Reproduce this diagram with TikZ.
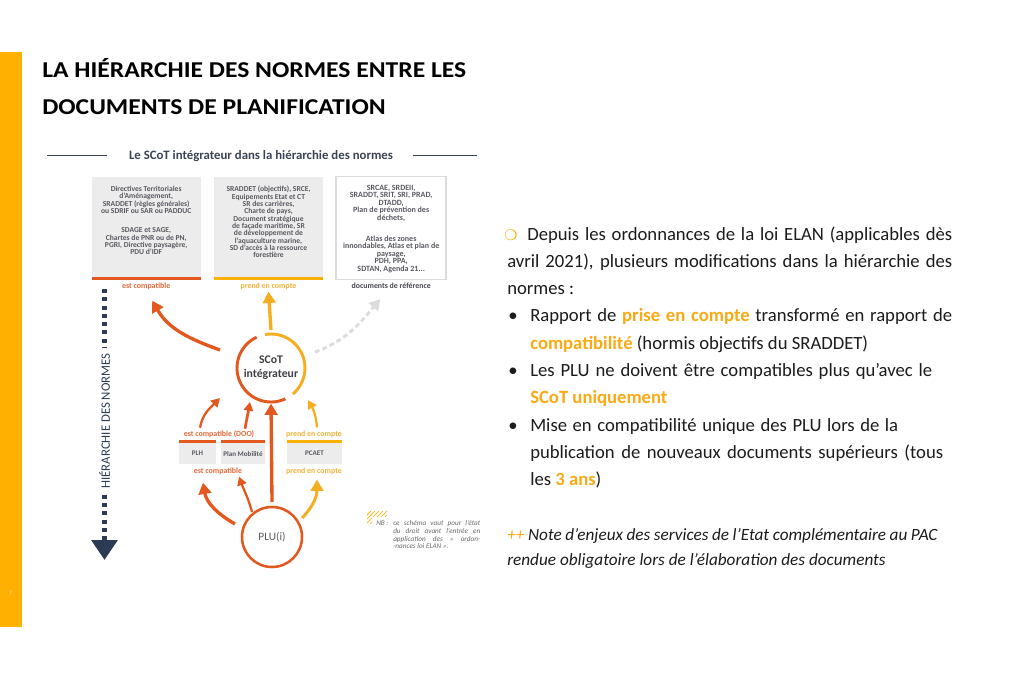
\documentclass[tikz,border=0pt]{standalone}
\usepackage{fontspec}
\setmainfont{Carlito}
\newfontfamily\symfont{DejaVu Sans}
\newfontfamily\titlefont{Carlito}[FakeStretch=1.13]
\usetikzlibrary{arrows.meta,calc,patterns}
\definecolor{ambar}{RGB}{255,176,0}
\definecolor{hl}{RGB}{250,170,20}
\definecolor{dorange}{RGB}{226,88,30}
\definecolor{lorange}{RGB}{226,105,55}
\definecolor{yarrow}{RGB}{246,174,32}
\definecolor{ylabel}{RGB}{242,178,55}
\definecolor{navy}{RGB}{45,58,84}
\definecolor{boxgray}{RGB}{236,236,236}
\definecolor{boxtext}{RGB}{88,90,96}
\definecolor{lgray}{RGB}{220,220,220}
\definecolor{txt}{RGB}{28,28,28}
\definecolor{subt}{RGB}{58,68,84}
\definecolor{nbgray}{RGB}{105,105,110}
\definecolor{pagen}{RGB}{255,222,150}
\begin{document}
\begin{tikzpicture}[x=0.75pt,y=0.75pt,
  lab/.style={font=\bfseries\fontsize{5.9}{7}\selectfont, inner sep=0},
  btext/.style={font=\bfseries\fontsize{5.7}{5.5}\selectfont, text=boxtext, align=center, inner sep=0},
  gbox/.style={rectangle, fill=boxgray, inner sep=0, outer sep=0, minimum width=81.75pt, minimum height=75.2pt},
  sbox/.style={rectangle, fill=boxgray, inner sep=0, outer sep=0, minimum height=16.1pt, font=\bfseries\fontsize{5.3}{6}\selectfont, text=boxtext},
  thickarr/.style={line width=2.5pt, -{Triangle[width=9.5pt,length=8.5pt]}},
  thinarr/.style={line width=1.7pt, -{Triangle[width=7pt,length=6.5pt]}},
  rline/.style={anchor=base west, inner sep=0, font=\fontsize{14}{16}\selectfont, text=txt},
  nline/.style={anchor=base west, inner sep=0, font=\itshape\fontsize{12.9}{16}\selectfont, text=txt},
  nbline/.style={anchor=base west, inner sep=0, font=\itshape\fontsize{5.4}{6.5}\selectfont, text=nbgray},
  titleline/.style={anchor=base west, inner sep=0, font=\titlefont\bfseries\fontsize{17}{20}\selectfont, text=black},
]
\useasboundingbox (0,0) rectangle (1024,-678);
\fill[white] (0,0) rectangle (1024,-678);
\fill[ambar] (0,-52) rectangle (22,-627);
\node[font=\fontsize{5}{6}\selectfont, text=pagen, inner sep=0] (pnum) at (10.5,-593) {7};

% title
\node[titleline] (title1) at (42,-77) {LA HIÉRARCHIE DES NORMES ENTRE LES};
\node[titleline] (title2) at (42,-114) {DOCUMENTS DE PLANIFICATION};

% subtitle
\node[anchor=base, inner sep=0, font=\bfseries\fontsize{9.6}{11}\selectfont, text=subt] (subtitle) at (261,-159) {Le SCoT intégrateur dans la hiérarchie des normes};
\draw[subt, line width=0.7pt] (47,-155.5) -- (107,-155.5);
\draw[subt, line width=0.7pt] (413,-155.5) -- (477,-155.5);

% top boxes
\node[gbox] (box1) at (146.2,-227) {};
\node[gbox] (box2) at (268.5,-227) {};
\node[gbox, fill=white, draw=lgray, line width=1.2pt, minimum width=82.5pt, minimum height=77pt] (box3) at (391.2,-228) {};
\draw[dorange, line width=2.3pt] ([yshift=-1.15pt]box1.south west) -- ([yshift=-1.15pt]box1.south east);
\draw[ambar, line width=2.3pt] ([yshift=-1.15pt]box2.south west) -- ([yshift=-1.15pt]box2.south east);

\node[btext, anchor=north] (box1t) at ($(box1.north)+(0,-9)$) {Directives Territoriales\\d'Aménagement,\\SRADDET (règles générales)\\ou SDRIF ou SAR ou PADDUC\\[9pt]SDAGE et SAGE,\\Chartes de PNR ou de PN,\\PGRI, Directive paysagère,\\PDU d'IDF};
\node[btext, anchor=north] (box2t) at ($(box2.north)+(0,-9)$) {SRADDET (objectifs), SRCE,\\Equipements Etat et CT\\SR des carrières,\\Charte de pays,\\Document stratégique\\de façade maritime, SR\\de développement de\\l'aquaculture marine,\\SD d'accès à la ressource\\forestière};
\node[btext, anchor=north, font=\bfseries\fontsize{6}{5.6}\selectfont] (box3t) at ($(box3.north)+(0,-8)$) {SRCAE, SRDEII,\\SRADDT, SRIT, SRI, PRAD,\\DTADD,\\Plan de prévention des\\déchets,\\[10.5pt]Atlas des zones\\innondables, Atlas et plan de\\paysage,\\PDH, PPA,\\SDTAN, Agenda 21...};

\node[lab, text=lorange] (lab1) at (146.2,-286) {est compatible};
\node[lab, text=ylabel] (lab2) at (268.5,-286) {prend en compte};
\node[lab, text=boxtext!80!black] (lab3) at (391.2,-286) {documents de référence};

% hierarchy arrow
\node[rotate=90, inner sep=0, font=\fontsize{9.6}{11}\selectfont, text=navy] (hier) at (104.5,-421) {HIÉRARCHIE DES NORMES};
\coordinate (navtop) at (104.5,-289);
\coordinate (navtip) at (104.5,-560);
\draw[navy, line width=3.8pt, dash pattern=on 3pt off 3.2pt] (navtop) -- ($(hier.east)+(0,5)$);
\draw[navy, line width=3.8pt, dash pattern=on 3pt off 3.2pt, -{Triangle[width=19pt,length=15pt]}] ($(hier.west)+(0,-6)$) -- (navtip);

% SCoT circle
\node[circle, inner sep=0, outer sep=0, minimum size=51pt, align=center, font=\bfseries\fontsize{8.8}{10.5}\selectfont, text=boxtext!70!black] (scot) at (271,-368) {SCoT\\intégrateur};
\draw[dorange, line width=2.2pt] (scot.115) arc[start angle=115, end angle=295, radius=25.5pt];
\draw[yarrow, line width=2.2pt] (scot.100) arc[start angle=100, end angle=-50, radius=25.5pt];

% PLU circle
\node[circle, draw=dorange, line width=1.9pt, inner sep=0, outer sep=0, minimum size=45pt, font=\fontsize{8.5}{10}\selectfont, text=boxtext] (plu) at (272,-537) {PLU(i)};

% small boxes
\node[sbox, minimum width=27.75pt] (plh) at (197.5,-453.7) {PLH};
\node[sbox, minimum width=33pt] (mob) at (243,-453.7) {Plan Mobilité};
\node[sbox, minimum width=41.25pt] (pcaet) at (314.5,-453.7) {PCAET};
\draw[dorange, line width=2.2pt] ([yshift=1.3pt]plh.north west) -- ([yshift=1.3pt]plh.north east);
\draw[dorange, line width=2.2pt] ([yshift=1.3pt]mob.north west) -- ([yshift=1.3pt]mob.north east);
\draw[ambar, line width=2.2pt] ([yshift=1.3pt]pcaet.north west) -- ([yshift=1.3pt]pcaet.north east);

\node[lab, text=lorange] (lab4) at (219,-434.5) {est compatible (DOO)};
\node[lab, text=lorange] (lab5) at (218,-471) {est compatible};
\node[lab, text=ylabel] (lab6) at (314,-434) {prend en compte};
\node[lab, text=ylabel] (lab7) at (314,-471) {prend en compte};

% arrows from SCoT
\draw[thickarr, dorange] ($(scot)+(-51,18)$) to[out=160, in=-60] ($(lab1.south)+(6,-11)$);
\draw[thickarr, yarrow] ($(scot.north)+(0,4)$) -- ($(lab2.south)+(0,-2)$);
\draw[line width=2.2pt, lgray, dash pattern=on 3.5pt off 2.5pt, -{Triangle[width=9pt,length=8pt]}] ($(scot)+(44,16)$) to[out=20, in=-130] ($(lab3.south)+(-11,-10)$);

% arrows from PLU
\draw[thickarr, dorange] ($(plu.north)+(0,5)$) -- ($(scot.south)+(0,-1.5)$);
\draw[thickarr, dorange] ($(plu)+(-37,13)$) to[out=150, in=-80] ($(lab5.south)+(-15,-8)$);
\draw[thinarr, dorange] ($(plu)+(-20,25)$) to[out=105, in=-70] ($(lab5.south)+(21,-2)$);
\draw[thickarr, yarrow, line width=2.2pt] ($(plu)+(30,19)$) to[out=45, in=-90] ($(lab7.south)+(3,-5)$);

% arrows from small boxes to SCoT
\draw[thinarr, dorange] ($(lab4.north)+(-19,3)$) to[out=80, in=-135] ($(scot)+(-51,-30)$);
\draw[thinarr, dorange, line width=2pt] ($(lab4.north)+(26,2)$) to[out=80, in=-100] ($(scot)+(-21,-34)$);
\draw[thinarr, yarrow] ($(lab6.north)+(3,3)$) to[out=95, in=-60] ($(scot)+(37,-32)$);

% NB
\fill[pattern=north east lines, pattern color=ambar] (367,-511.5) rectangle (387,-516.5);
\fill[pattern=north east lines, pattern color=ambar] (367,-511.5) rectangle (372,-523);
\node[nbline] (nb0) at (376,-525) {NB :};
\node[nbline] (nb1) at (393,-525) {\makebox[65.25pt][s]{ce schéma vaut pour l’état}};
\node[nbline] (nb2) at (393,-533) {\makebox[65.25pt][s]{du droit avant l’entrée en}};
\node[nbline] (nb3) at (393,-541) {\makebox[65.25pt][s]{application des « ordon-}};
\node[nbline] (nb4) at (393,-548.5) {-nances loi ELAN ».};

% right text
\node[anchor=base west, inner sep=0, font=\symfont\fontsize{11}{13}\selectfont, text=ambar] (sym) at (504,-240) {❍};
\node[rline] (r1) at (527,-240) {\makebox[318.75pt][s]{Depuis les ordonnances de la loi ELAN (applicables dès}};
\node[rline] (r2) at (507,-267.3) {\makebox[333.75pt][s]{avril 2021), plusieurs modifications dans la hiérarchie des}};
\node[rline] (r3) at (507,-294.6) {normes :};
\node[rline] (b1) at (508,-321.9) {•};
\node[rline] (r4) at (530,-321.9) {\makebox[316.5pt][s]{Rapport de \textcolor{hl}{\bfseries prise en compte} transformé en rapport de}};
\node[rline] (r5) at (530,-349.2) {\textcolor{hl}{\bfseries compatibilité} (hormis objectifs du SRADDET)};
\node[rline] (b2) at (508,-376.5) {•};
\node[rline] (r6) at (530,-376.5) {\makebox[301.5pt][s]{Les PLU ne doivent être compatibles plus qu’avec le}};
\node[rline] (r7) at (530,-403.8) {\textcolor{hl}{\bfseries SCoT uniquement}};
\node[rline] (b3) at (508,-431.1) {•};
\node[rline] (r8) at (530,-431.1) {\makebox[276pt][s]{Mise en compatibilité unique des PLU lors de la}};
\node[rline] (r9) at (530,-458.4) {\makebox[309.75pt][s]{publication de nouveaux documents supérieurs (tous}};
\node[rline] (r10) at (530,-485.7) {les \textcolor{hl}{\bfseries 3 ans})};
\node[nline] (n1) at (507,-540) {\makebox[322.5pt][s]{\textcolor{hl}{++} Note d’enjeux des services de l’Etat complémentaire au PAC}};
\node[nline] (n2) at (507,-565) {rendue obligatoire lors de l’élaboration des documents};
\end{tikzpicture}
\end{document}
